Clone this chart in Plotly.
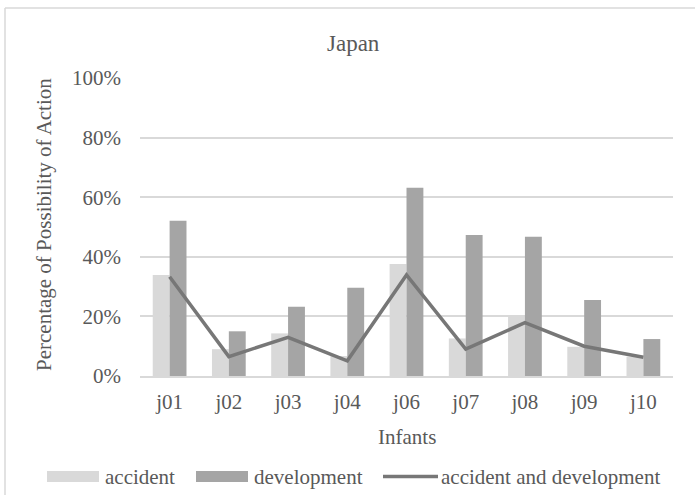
import plotly.graph_objects as go

# ---- data ----
infants = ["j01", "j02", "j03", "j04", "j06", "j07", "j08", "j09", "j10"]
accident = [0.339, 0.090, 0.143, 0.067, 0.376, 0.126, 0.199, 0.098, 0.065]
development = [0.521, 0.150, 0.232, 0.296, 0.632, 0.473, 0.467, 0.255, 0.124]
acc_and_dev = [0.333, 0.065, 0.130, 0.051, 0.339, 0.090, 0.179, 0.100, 0.063]
y_ticks = [0, 0.2, 0.4, 0.6, 0.8, 1.0]
y_tick_labels = ["0%", "20%", "40%", "60%", "80%", "100%"]

FONT = "Liberation Serif, Times New Roman, serif"
TXT = "#595959"
GRID = "#d9d9d9"
W, H = 695, 495
L, R, T, B = 140, 22, 78, 119
PW, PH = W - L - R, H - T - B


def px(x):
    return (x - L) / PW


def py(y):
    return (H - B - y) / PH


fig = go.Figure()
fig.add_trace(go.Bar(x=infants, y=accident, name="accident",
                     marker=dict(color="#d9d9d9", line=dict(width=0))))
fig.add_trace(go.Bar(x=infants, y=development, name="development",
                     marker=dict(color="#a5a5a5", line=dict(width=0))))
fig.add_trace(go.Scatter(x=infants, y=acc_and_dev, mode="lines",
                         name="accident and development",
                         line=dict(color="#777777", width=3.5)))

shapes = [
    # outer frame (top and left edges visible)
    dict(type="line", xref="paper", yref="paper", x0=px(5), x1=px(W + 5), y0=py(8), y1=py(8),
         line=dict(color=GRID, width=1.5)),
    dict(type="line", xref="paper", yref="paper", x0=px(5), x1=px(5), y0=py(8), y1=py(H + 5),
         line=dict(color=GRID, width=1.5)),
    # legend swatches
    dict(type="rect", xref="paper", yref="paper", x0=px(47), x1=px(99), y0=py(471), y1=py(482),
         fillcolor="#d9d9d9", line=dict(width=0)),
    dict(type="rect", xref="paper", yref="paper", x0=px(196), x1=px(248), y0=py(471), y1=py(482),
         fillcolor="#a5a5a5", line=dict(width=0)),
    dict(type="line", xref="paper", yref="paper", x0=px(383), x1=px(438), y0=py(476.5), y1=py(476.5),
         line=dict(color="#777777", width=3.5)),
]

annotations = [
    dict(text="accident", xref="paper", yref="paper", x=px(103), y=py(476.5),
         xanchor="left", yanchor="middle", showarrow=False, font=dict(family=FONT, size=21, color=TXT)),
    dict(text="development", xref="paper", yref="paper", x=px(252), y=py(476.5),
         xanchor="left", yanchor="middle", showarrow=False, font=dict(family=FONT, size=21, color=TXT)),
    dict(text="accident and development", xref="paper", yref="paper", x=px(439), y=py(476.5),
         xanchor="left", yanchor="middle", showarrow=False, font=dict(family=FONT, size=21, color=TXT)),
    dict(text="Japan", xref="paper", yref="paper", x=px(353), y=py(43),
         xanchor="center", yanchor="middle", showarrow=False, font=dict(family=FONT, size=23, color=TXT)),
    dict(text="Infants", xref="paper", yref="paper", x=(px(140) + px(673)) / 2, y=py(437),
         xanchor="center", yanchor="middle", showarrow=False, font=dict(family=FONT, size=21, color=TXT)),
    dict(text="Percentage of Possibility of Action", xref="paper", yref="paper", x=px(44), y=py(225),
         xanchor="center", yanchor="middle", textangle=-90, showarrow=False,
         font=dict(family=FONT, size=21, color=TXT)),
]

fig.update_layout(
    width=W, height=H,
    margin=dict(l=L, r=R, t=T, b=B),
    paper_bgcolor="white", plot_bgcolor="white",
    showlegend=False,
    barmode="group", bargap=0.43, bargroupgap=0,
    font=dict(family=FONT, size=21, color=TXT),
    shapes=shapes, annotations=annotations,
    xaxis=dict(showgrid=False, showline=True, linecolor=GRID, linewidth=1.5,
               ticks="", tickfont=dict(family=FONT, size=21, color=TXT), ticklabelstandoff=6),
    yaxis=dict(range=[0, 1.0], tickvals=y_ticks, ticktext=y_tick_labels,
               showgrid=True, gridcolor=GRID, gridwidth=1.5, zeroline=False, showline=False,
               ticks="", tickfont=dict(family=FONT, size=21, color=TXT), ticklabelstandoff=18),
)

fig.write_html("out.html")
